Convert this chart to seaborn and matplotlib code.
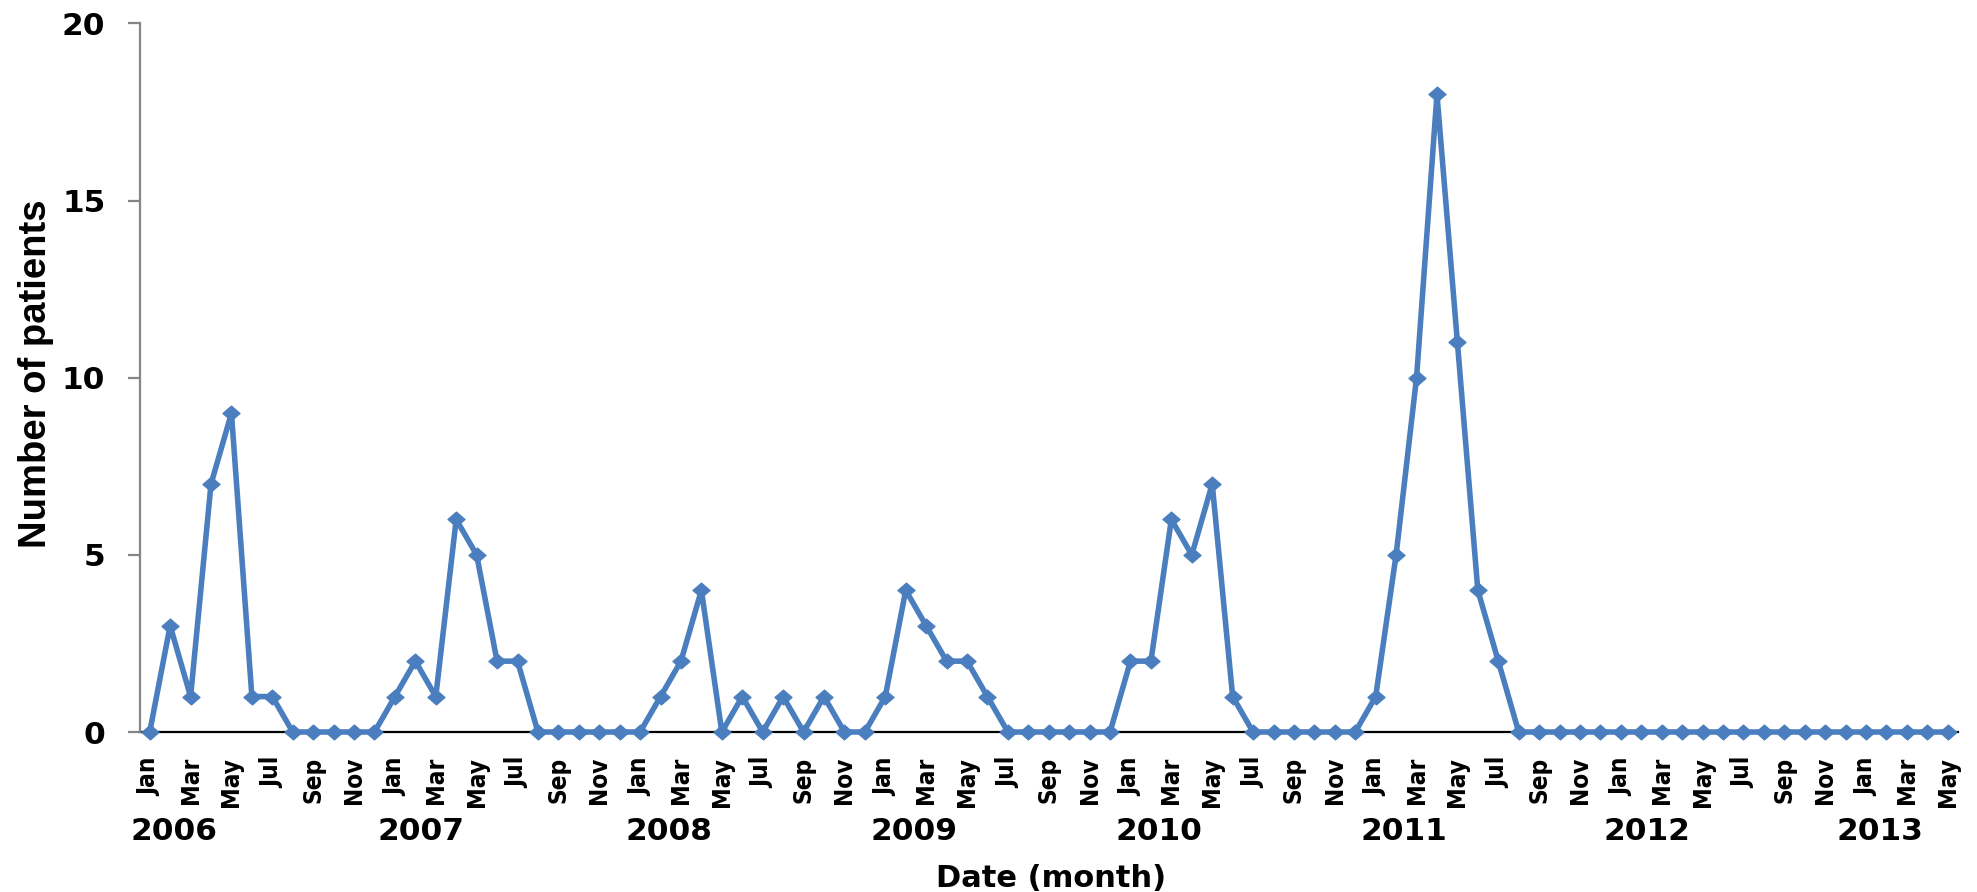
import numpy as np
import pandas as pd
import matplotlib
matplotlib.use("Agg")
import matplotlib.pyplot as plt
import seaborn as sns
from matplotlib.path import Path
from matplotlib import font_manager, transforms

# ---------------- data ----------------
years = [2006, 2007, 2008, 2009, 2010, 2011, 2012, 2013]
month_abbr = ["Jan", "Feb", "Mar", "Apr", "May", "Jun",
              "Jul", "Aug", "Sep", "Oct", "Nov", "Dec"]
cases_2006 = [0, 3, 1, 7, 9, 1, 1, 0, 0, 0, 0, 0]
cases_2007 = [1, 2, 1, 6, 5, 2, 2, 0, 0, 0, 0, 0]
cases_2008 = [0, 1, 2, 4, 0, 1, 0, 1, 0, 1, 0, 0]
cases_2009 = [1, 4, 3, 2, 2, 1, 0, 0, 0, 0, 0, 0]
cases_2010 = [2, 2, 6, 5, 7, 1, 0, 0, 0, 0, 0, 0]
cases_2011 = [1, 5, 10, 18, 11, 4, 2, 0, 0, 0, 0, 0]
cases_2012 = [0, 0, 0, 0, 0, 0, 0, 0, 0, 0, 0, 0]
cases_2013 = [0, 0, 0, 0, 0]
yticks = [0, 5, 10, 15, 20]

all_cases = (cases_2006 + cases_2007 + cases_2008 + cases_2009 +
             cases_2010 + cases_2011 + cases_2012 + cases_2013)
month_labels = [month_abbr[i % 12] for i in range(len(all_cases))]
df = pd.DataFrame({"idx": np.arange(len(all_cases)),
                   "month": month_labels,
                   "patients": all_cases})

# ---------------- style ----------------
sns.set_theme(style="white")
plt.rcParams["font.family"] = ["DejaVu Sans"]

names = {f.name for f in font_manager.fontManager.ttflist}
if "Liberation Sans Narrow" in names:
    month_font = dict(family=["Liberation Sans Narrow", "DejaVu Sans"],
                      weight="bold", size=20)
else:
    month_font = dict(family=["DejaVu Sans"], stretch="condensed",
                      weight="heavy", size=17.5)
ylab_family = ["Liberation Sans", "DejaVu Sans"] if "Liberation Sans" in names else ["DejaVu Sans"]

W, H = 1977, 892
fig = plt.figure(figsize=(W / 100, H / 100), dpi=100)
ax_left, ax_right, ax_top, ax_bot = 139.5, 1958, 23.5, 732
ax = fig.add_axes([ax_left / W, 1 - ax_bot / H,
                   (ax_right - ax_left) / W, (ax_bot - ax_top) / H])

line_color = "#4A7EBE"
diamond = Path([(-1.15, 0), (0, 1), (1.15, 0), (0, -1), (-1.15, 0)],
               [Path.MOVETO, Path.LINETO, Path.LINETO, Path.LINETO, Path.CLOSEPOLY])

sns.lineplot(data=df, x="idx", y="patients", ax=ax, color=line_color,
             linewidth=4.0, marker=diamond, markersize=12.5,
             markeredgecolor=line_color, markerfacecolor=line_color,
             zorder=3, clip_on=False)

ax.set_xlim(-0.5, len(all_cases) - 0.5)
ax.set_ylim(0, 20)

# spines
for s in ["top", "right"]:
    ax.spines[s].set_visible(False)
ax.spines["left"].set_color("#868686")
ax.spines["left"].set_linewidth(1.6)
ax.spines["bottom"].set_color("black")
ax.spines["bottom"].set_linewidth(1.6)
ax.spines["bottom"].set_zorder(2)

# y ticks
ax.set_yticks(yticks)
ax.set_yticklabels([str(v) for v in yticks], fontsize=22.5, fontweight="bold",
                   family="DejaVu Sans")
ax.tick_params(axis="y", which="both", left=True, length=8.6, width=1.6,
               color="#868686", pad=16, direction="out")

# x ticks: every other month
xt = list(range(0, len(all_cases), 2))
ax.set_xticks(xt)
ax.set_xticklabels([month_labels[i] for i in xt], rotation=90, **month_font)
ax.tick_params(axis="x", which="both", bottom=False, length=0, pad=18)

ax.set_xlabel("")
ax.set_ylabel("")
ax.grid(False)

# year labels
year_offsets = [1.2, 1.3, 1.4, 1.4, 1.4, 1.4, 1.3, 0.7]
trans = transforms.blended_transform_factory(ax.transData, fig.transFigure)
for k, (yr, off) in enumerate(zip(years, year_offsets)):
    ax.text(12 * k + off, 1 - 840 / H, str(yr), transform=trans,
            ha="center", va="baseline", fontsize=22.5, fontweight="bold",
            family="DejaVu Sans", color="black", clip_on=False)

# axis titles
fig.text(1051 / W, 1 - 887 / H, "Date (month)", ha="center", va="baseline",
         fontsize=22, fontweight="bold", family="DejaVu Sans", color="black")
fig.text(36.5 / W, 1 - 374 / H, "Number of patients", rotation=90,
         ha="center", va="center", fontsize=27.5, fontweight="bold",
         family=ylab_family, color="black")

for lbl in ax.get_xticklabels() + ax.get_yticklabels():
    lbl.set_color("black")

fig.savefig("out.png", dpi=100, facecolor="white")
